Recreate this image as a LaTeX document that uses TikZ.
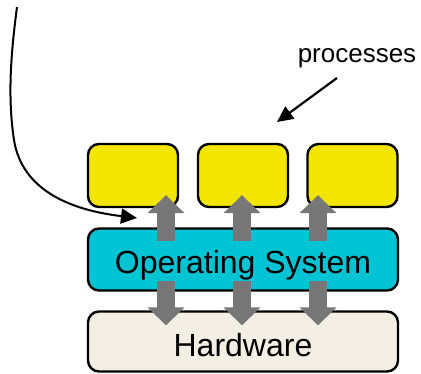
\documentclass[tikz,border=0pt]{standalone}
\usepackage{fontspec}
\setmainfont{Liberation Sans}
\usetikzlibrary{arrows.meta,calc}

\definecolor{procyellow}{RGB}{242,230,0}
\definecolor{oscyan}{RGB}{0,196,212}
\definecolor{hwbeige}{RGB}{242,238,228}
\definecolor{arrgray}{RGB}{119,119,119}

\tikzset{
  box/.style={draw=black, line width=2.4pt, rounded corners=11pt, inner sep=0pt},
  proc/.style={box, fill=procyellow, minimum width=90pt, minimum height=63pt},
  layer/.style={box, minimum width=310pt, minimum height=62pt, text height=28pt, text depth=0pt,
    font=\fontsize{32}{36}\selectfont},
  fat/.style={draw=arrgray, line width=18pt, -{Triangle[length=18pt,width=36pt]}},
  ptr/.style={line width=2.2pt, -{Triangle[length=16pt,width=15pt]}},
}

\begin{document}
\begin{tikzpicture}[x=1pt, y=-1pt]
  \useasboundingbox (0,0) rectangle (421,374);

  % process boxes
  \node[proc] (p1) at (133,175.5) {};
  \node[proc] (p2) at (243,175.5) {};
  \node[proc] (p3) at (352.5,175.5) {};

  % layers
  \node[layer, fill=oscyan] (os) at (243,259.5) {Operating System};
  \node[layer, fill=hwbeige, minimum height=60pt, text height=31pt] (hw) at (243,341.5) {Hardware};

  % system calls up, hardware access down
  \foreach \x/\p in {166/p1, 242/p2, 318/p3} {
    \draw[fat] ($(os.north -| \x,0)+(0,14)$) -- ($(\p.south -| \x,0)+(0,-13)$);
    \draw[fat] ($(os.south -| \x,0)+(0,-11)$) -- ($(hw.north -| \x,0)+(0,15)$);
  }

  % label
  \node[font=\fontsize{26}{30}\selectfont] (plabel) at (357,58) {processes};
  \coordinate (ptail) at (337,78);
  \coordinate (phead) at (277,122);
  \draw[ptr] (ptail) -- (phead);

  % curved pointer into the OS
  \coordinate (src) at (17,7);
  \coordinate (tgt) at (137,218);
  \draw[ptr, line width=2pt] (src) .. controls (10,60) and (8,100) .. (14,140)
    .. controls (22,190) and (70,210) .. (tgt);
\end{tikzpicture}
\end{document}
